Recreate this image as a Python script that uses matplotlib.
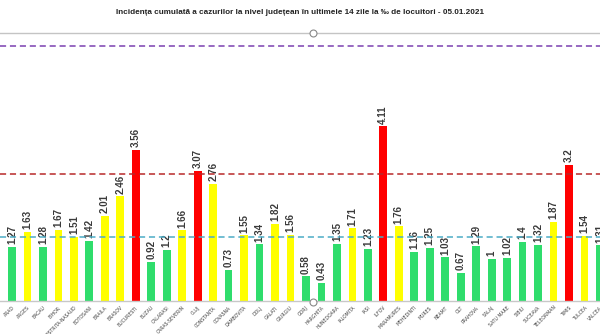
import numpy as np
import matplotlib
matplotlib.use("Agg")
import matplotlib.pyplot as plt

# judete vizibile in captura (ALBA taiat in stanga, VALCEA partial in dreapta)
judete = ["ARAD", "ARGES", "BACAU", "BIHOR", "BISTRITA-NASAUD", "BOTOSANI",
          "BRAILA", "BRASOV", "BUCURESTI", "BUZAU", "CALARASI", "CARAS-SEVERIN",
          "CLUJ", "CONSTANTA", "COVASNA", "DAMBOVITA", "DOLJ", "GALATI",
          "GIURGIU", "GORJ", "HARGHITA", "HUNEDOARA", "IALOMITA", "IASI",
          "ILFOV", "MARAMURES", "MEHEDINTI", "MURES", "NEAMT", "OLT",
          "PRAHOVA", "SALAJ", "SATU MARE", "SIBIU", "SUCEAVA", "TELEORMAN",
          "TIMIS", "TULCEA", "VALCEA"]
incidenta = [1.27, 1.63, 1.28, 1.67, 1.51, 1.42,
             2.01, 2.46, 3.56, 0.92, 1.2, 1.66,
             3.07, 2.76, 0.73, 1.55, 1.34, 1.82,
             1.56, 0.58, 0.43, 1.35, 1.71, 1.23,
             4.11, 1.76, 1.16, 1.25, 1.03, 0.67,
             1.29, 1.0, 1.02, 1.4, 1.32, 1.87,
             3.2, 1.54, 1.31]
praguri = [1.5, 3.0, 6.0]

def culoare(v):
    if v > 3:
        return "#ff0000"
    if v >= 1.5:
        return "#ffff00"
    return "#2fdd6c"

W, H = 600, 334
fig = plt.figure(figsize=(W / 100, H / 100), dpi=100)
ax = fig.add_axes([0, (H - 301) / H, 1, 301 / H])

x = np.arange(len(judete))
ax.bar(x, incidenta, width=0.5, color=[culoare(v) for v in incidenta], zorder=2)

for xi, v in zip(x, incidenta):
    ax.text(xi, v + 0.06, f"{v:g}", rotation=90, ha="center", va="bottom",
            fontsize=7, fontweight="bold", color="#3a3a3a", family="Liberation Sans")

ax.axhline(praguri[0], color="#4bacc6", lw=1.1, ls=(0, (4, 2.5)), zorder=3)
ax.axhline(praguri[1], color="#b8282a", lw=1.1, ls=(0, (4, 2.5)), zorder=3)
ax.axhline(praguri[2], color="#7a40b0", lw=1.1, ls=(0, (4, 2.5)), zorder=3)

ax.set_xlim(-0.775, 37.96)
ax.set_ylim(0, 301 / 42.5)
ax.set_xticks(x)
ax.set_xticklabels(judete, rotation=45, ha="right", rotation_mode="anchor",
                   fontsize=3.3, color="#404040")
ax.tick_params(axis="x", length=0, pad=3)
ax.set_yticks([])
for s in ["top", "left", "right"]:
    ax.spines[s].set_visible(False)
ax.spines["bottom"].set_color("#c8c8c8")
ax.spines["bottom"].set_linewidth(1)

fig.text(0.5, 1 - 13 / H,
         "Incidența cumulată a cazurilor la nivel județean în ultimele 14 zile la ‰ de locuitori - 05.01.2021",
         ha="center", va="center", fontsize=5.9, fontweight="bold", color="#222222",
         family="Liberation Sans")

# ramele de selectie din captura
fig.add_artist(plt.Line2D([0, 1], [1 - 33 / H] * 2, color="#c4c4c4", lw=1,
                          transform=fig.transFigure))
for yy in [33, 302]:
    fig.add_artist(plt.Line2D([313 / W], [1 - yy / H], marker="o", ms=5,
                              mfc="white", mec="#888888", mew=0.8,
                              transform=fig.transFigure))

fig.savefig("out.png", dpi=100, facecolor="white")
